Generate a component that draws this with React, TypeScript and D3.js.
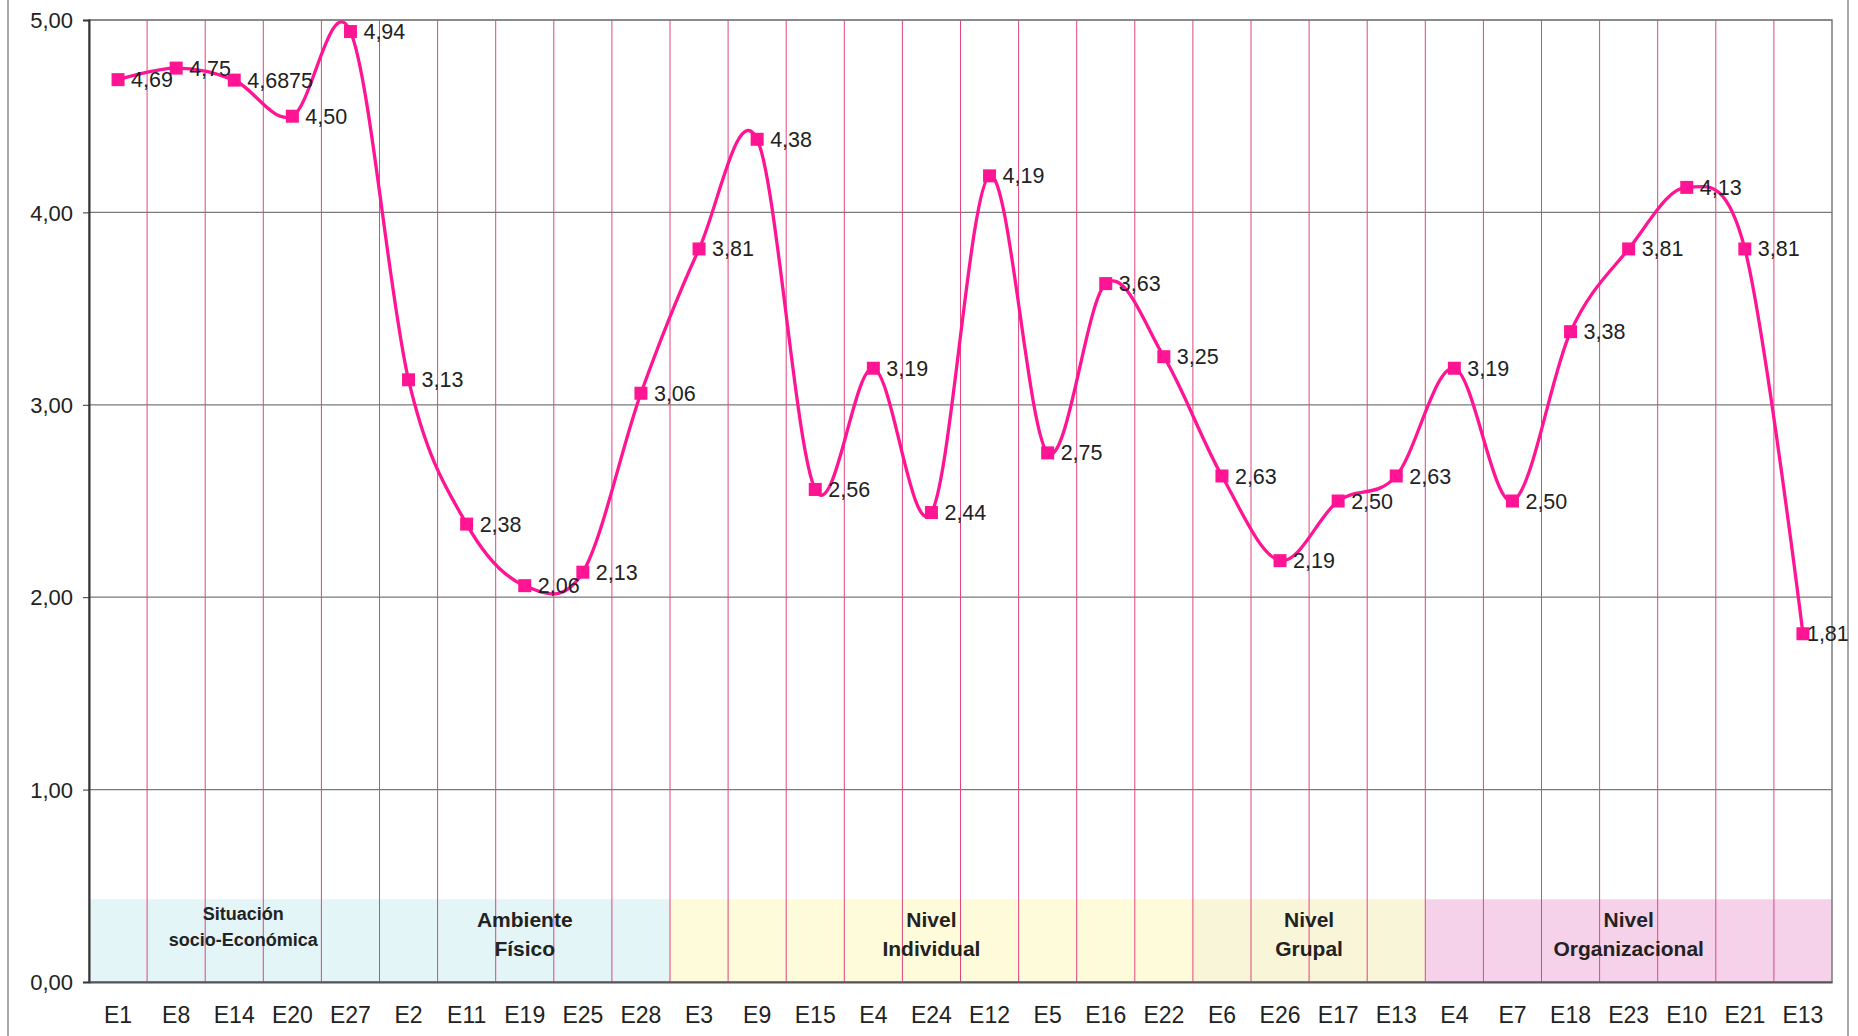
import React, { useRef, useEffect } from "react";
import * as d3 from "d3";

// categories (items) in chart order
const categories = [
  "E1", "E8", "E14", "E20", "E27",
  "E2", "E11", "E19", "E25", "E28",
  "E3", "E9", "E15", "E4", "E24", "E12", "E5", "E16", "E22",
  "E6", "E26", "E17", "E13",
  "E4", "E7", "E18", "E23", "E10", "E21", "E13",
];

const values = [
  4.69, 4.75, 4.6875, 4.5, 4.94,
  3.13, 2.38, 2.06, 2.13, 3.06,
  3.81, 4.38, 2.56, 3.19, 2.44, 4.19, 2.75, 3.63, 3.25,
  2.63, 2.19, 2.5, 2.63,
  3.19, 2.5, 3.38, 3.81, 4.13, 3.81, 1.81,
];

// group bands: first/last index, lines of the label, fill
const groupNames = [
  ["Situación", "socio-Económica"],
  ["Ambiente", "Físico"],
  ["Nivel", "Individual"],
  ["Nivel", "Grupal"],
  ["Nivel", "Organizacional"],
];
const groupStart = [0, 5, 10, 19, 23];
const groupEnd = [4, 9, 18, 22, 29];
const groupFill = ["#e3f5f6", "#e3f5f6", "#fdfbda", "#f8f5d9", "#f6d2ea"];

const yTicks = [0, 1, 2, 3, 4, 5];
const bandTop = 0.43;

const fmt = (v: number) =>
  (v === 4.6875 ? "4,6875" : v.toFixed(2).replace(".", ","));

const FONT = "'Liberation Sans', Arial, sans-serif";
const PINK = "#ff1493";

const App = () => {
  const svgRef = useRef<SVGSVGElement>(null);

  useEffect(() => {
    const W = 1858;
    const H = 1036;
    const margin = { top: 20, right: 26, bottom: 54, left: 89 };
    const width = W - margin.left - margin.right;
    const height = H - margin.top - margin.bottom;

    const svg = d3.select(svgRef.current);
    svg.selectAll("*").remove();
    svg.attr("width", W).attr("height", H);

    svg.append("rect").attr("width", W).attr("height", H).attr("fill", "#fff");

    // outer frame lines
    [8, 1848].forEach((x) =>
      svg.append("line")
        .attr("x1", x).attr("x2", x).attr("y1", 0).attr("y2", H)
        .attr("stroke", "#8a8a8a").attr("stroke-width", 1.5)
    );

    const g = svg.append("g").attr("transform", `translate(${margin.left},${margin.top})`);

    const idx = categories.map((_, i) => i);
    const x = d3.scaleBand<number>().domain(idx).range([0, width]).padding(0);
    const y = d3.scaleLinear().domain([0, 5]).range([height, 0]);
    const cx = (i: number) => (x(i) as number) + x.bandwidth() / 2;

    // group bands
    groupNames.forEach((lines, k) => {
      const x0 = x(groupStart[k]) as number;
      const x1 = (x(groupEnd[k]) as number) + x.bandwidth();
      g.append("rect")
        .attr("x", x0).attr("width", x1 - x0)
        .attr("y", y(bandTop)).attr("height", y(0) - y(bandTop))
        .attr("fill", groupFill[k]);
    });

    // horizontal grid
    g.selectAll(".hgrid")
      .data(yTicks.slice(1))
      .enter()
      .append("line")
      .attr("x1", 0).attr("x2", width)
      .attr("y1", (d) => y(d)).attr("y2", (d) => y(d))
      .attr("stroke", "#7a7a7a").attr("stroke-width", 1.2);

    // vertical pink grid at category boundaries
    g.selectAll(".vgrid")
      .data(idx.slice(1))
      .enter()
      .append("line")
      .attr("x1", (d) => x(d) as number).attr("x2", (d) => x(d) as number)
      .attr("y1", 0).attr("y2", height)
      .attr("stroke", "#e0457f").attr("stroke-width", 1);

    // plot border
    g.append("rect")
      .attr("width", width).attr("height", height)
      .attr("fill", "none").attr("stroke", "#7a7a7a").attr("stroke-width", 1.5);

    // group labels
    groupNames.forEach((lines, k) => {
      const mid = ((x(groupStart[k]) as number) + (x(groupEnd[k]) as number) + x.bandwidth()) / 2;
      const small = k === 0;
      const t = g.append("text")
        .attr("text-anchor", "middle")
        .attr("font-family", FONT)
        .attr("font-weight", "bold")
        .attr("font-size", small ? 18 : 21)
        .attr("fill", "#222");
      lines.forEach((ln, j) => {
        t.append("tspan")
          .attr("x", mid + (small ? 9 : 0))
          .attr("y", small ? y(0) - 62 + j * 26 : y(0) - 55 + j * 29)
          .text(ln);
      });
    });

    // y axis
    const yAxis = g.append("g").call(
      d3.axisLeft(y).tickValues(yTicks).tickSize(6).tickPadding(10)
        .tickFormat((d) => (d as number).toFixed(2).replace(".", ","))
    );
    yAxis.select(".domain").attr("stroke", "#333").attr("stroke-width", 2);
    yAxis.selectAll(".tick line").attr("stroke", "#333");
    yAxis.selectAll("text")
      .attr("font-family", FONT).attr("font-size", 22).attr("fill", "#222")
      .attr("dy", "0.35em");

    // x axis
    const xAxis = g.append("g")
      .attr("transform", `translate(0, ${height})`)
      .call(d3.axisBottom(x).tickSize(0).tickPadding(25).tickFormat((d) => categories[d as number]));
    xAxis.select(".domain").attr("stroke", "#555").attr("stroke-width", 2);
    xAxis.selectAll("text")
      .attr("font-family", FONT).attr("font-size", 23).attr("fill", "#222");

    // smoothed line
    const line = d3.line<number>()
      .x((_, i) => cx(i))
      .y((d) => y(d))
      .curve(d3.curveCardinal.tension(0));

    g.append("path")
      .datum(values)
      .attr("d", line)
      .attr("fill", "none")
      .attr("stroke", PINK)
      .attr("stroke-width", 3.3);

    // markers
    g.selectAll(".mark")
      .data(values)
      .enter()
      .append("rect")
      .attr("x", (_, i) => cx(i) - 6.5)
      .attr("y", (d) => y(d) - 6.5)
      .attr("width", 13).attr("height", 13)
      .attr("fill", PINK);

    // data labels
    g.selectAll(".lbl")
      .data(values)
      .enter()
      .append("text")
      .attr("x", (_, i) => cx(i) + (i === values.length - 1 ? 4 : 13))
      .attr("y", (d) => y(d))
      .attr("dy", "0.35em")
      .attr("font-family", FONT)
      .attr("font-size", 21.5)
      .attr("fill", "#222")
      .text((d) => fmt(d));
  }, []);

  return (
    <svg ref={svgRef} style={{ position: "absolute", left: 0, top: 0, display: "block" }}></svg>
  );
};

export default App;
